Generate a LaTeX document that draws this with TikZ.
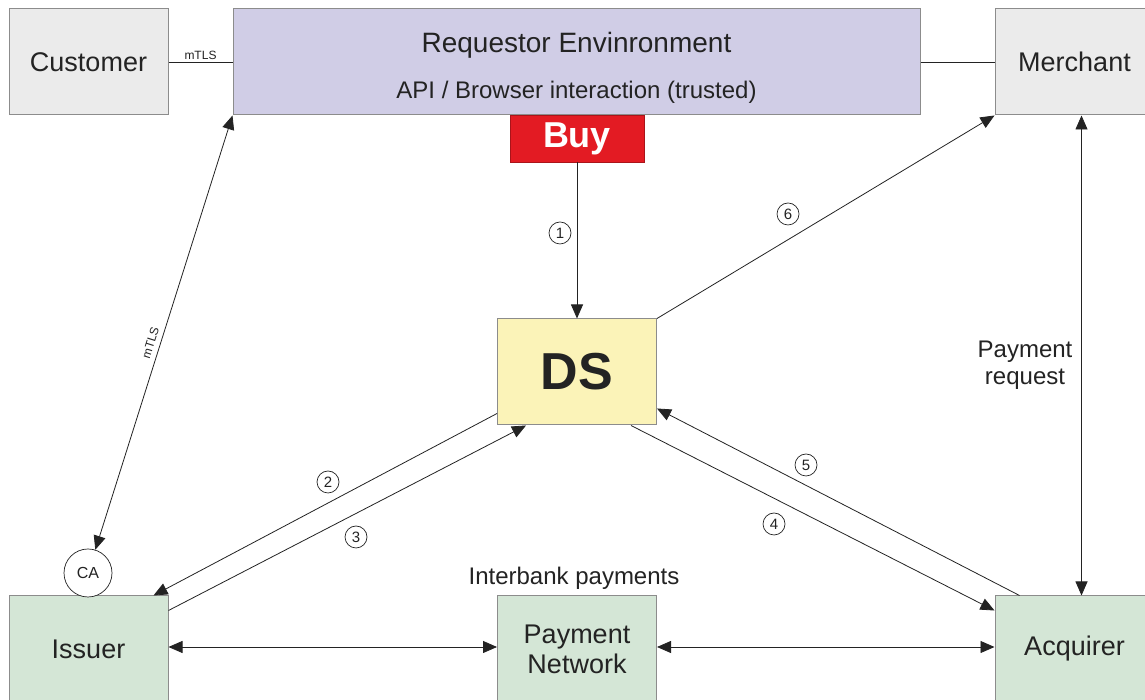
\documentclass[tikz,border=0pt]{standalone}
\usepackage{fontspec}
\setmainfont{Liberation Sans}
\usetikzlibrary{arrows.meta}

\definecolor{boxgray}{RGB}{235,235,235}
\definecolor{boxlila}{RGB}{208,205,230}
\definecolor{buyred}{RGB}{227,27,35}
\definecolor{dsyellow}{RGB}{251,243,184}
\definecolor{bankgreen}{RGB}{212,230,214}
\definecolor{edgegray}{RGB}{140,140,140}
\definecolor{inkdark}{RGB}{35,35,35}

\tikzset{
  box/.style={draw=edgegray, line width=1pt, minimum width=159, minimum height=106,
    inner sep=0pt, align=center, text=inkdark, font=\fontsize{27}{30}\selectfont},
  flow/.style={draw=inkdark, line width=0.8pt, -{Triangle[length=14pt,width=12pt]}},
  both/.style={flow, {Triangle[length=14pt,width=12pt]}-{Triangle[length=14pt,width=12pt]}},
  num/.style={draw=inkdark, circle, line width=0.7pt, minimum size=22, inner sep=0pt,
    text=inkdark, font=\fontsize{15}{15}\selectfont},
  small/.style={text=inkdark, font=\fontsize{12}{12}\selectfont, inner sep=2pt},
  note/.style={text=inkdark, align=center, font=\fontsize{24}{27}\selectfont}
}

\begin{document}
\begin{tikzpicture}[x=1pt,y=1pt]
\useasboundingbox (0,0) rectangle (1145,700);
\clip (0,0) rectangle (1145,700);
\fill[white] (0,0) rectangle (1145,700);

% top row
\node[box, fill=boxgray] (customer) at (88.5,638) {Customer};
\node[box, fill=boxlila, minimum width=687] (req) at (576.5,638) {};
\node[text=inkdark, font=\fontsize{28}{30}\selectfont] (reqtitle) at ([yshift=17]req.center) {Requestor Envinronment};
\node[text=inkdark, font=\fontsize{24}{26}\selectfont] (reqsub) at ([yshift=-30]req.center) {API / Browser interaction (trusted)};
\node[box, fill=boxgray] (merchant) at (1074.5,638) {Merchant};
\node[draw=buyred!75!black, fill=buyred, minimum width=134, minimum height=47, inner sep=0pt,
  text=white, font=\fontsize{36}{36}\selectfont\bfseries] (buy) at (577,561.5) {Buy};

% directory server
\node[box, fill=dsyellow, font=\fontsize{52}{52}\selectfont\bfseries] (ds) at (577,328) {DS};

% bottom row
\node[box, fill=bankgreen] (issuer) at (88.5,51) {Issuer};
\node[box, fill=bankgreen] (paynet) at (577,51) {Payment\\Network};
\node[box, fill=bankgreen] (acquirer) at (1074.5,51) {Acquirer};
\node[draw=inkdark, circle, line width=0.7pt, minimum size=48, inner sep=0pt, fill=white,
  text=inkdark, font=\fontsize{16}{16}\selectfont] (ca) at (88,127) {CA};
\node[note] (interbank) at (574,122) {Interbank payments};

% plain links
\draw[draw=inkdark, line width=0.8pt] (customer.east) -- node[small, above] (tls1) {mTLS} (req.west);
\draw[draw=inkdark, line width=0.8pt] (req.east) -- (merchant.west);

% numbered flows
\draw[flow] (buy.south) -- (ds.north);
\draw[flow] ([yshift=12]ds.south west) -- ([xshift=-15]issuer.north east);
\draw[flow] ([yshift=-15]issuer.north east) -- ([xshift=29]ds.south west);
\draw[flow] ([xshift=-26]ds.south east) -- ([yshift=-15]acquirer.north west);
\draw[flow] ([xshift=25]acquirer.north west) -- ([yshift=17]ds.south east);
\draw[flow] (ds.north east) -- (merchant.south west);
\node[num] (n1) at (560,467) {1};
\node[num] (n2) at (328,218) {2};
\node[num] (n3) at (356,163) {3};
\node[num] (n4) at (774,176) {4};
\node[num] (n5) at (806,235) {5};
\node[num] (n6) at (788,486) {6};

% two way links
\draw[both] (req.south west) -- node[small, sloped, above=3pt, pos=.53] (tls2) {mTLS} (ca);
\draw[both] ([yshift=2]issuer.east) -- ([yshift=2]paynet.west);
\draw[both] ([yshift=2]paynet.east) -- ([yshift=2]acquirer.west);
\draw[both] ([xshift=7]merchant.south) -- ([xshift=7]acquirer.north);
\node[note] (payreq) at (1025,335) {Payment\\request};
\end{tikzpicture}
\end{document}
